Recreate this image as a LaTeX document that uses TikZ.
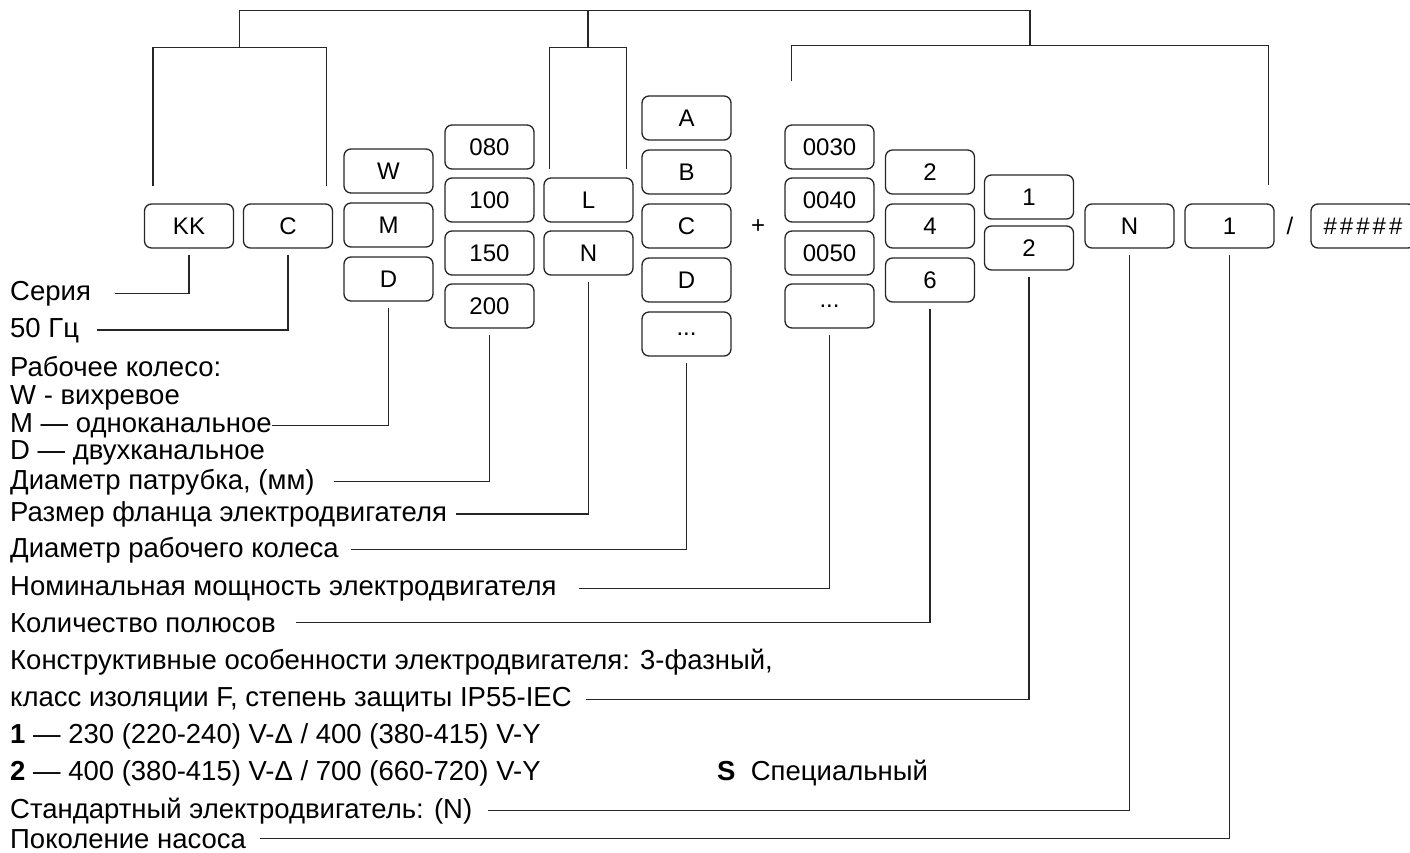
\documentclass[tikz,border=0pt]{standalone}
\usepackage{fontspec}
\setmainfont{Liberation Sans}
\usepackage{tikz}

\begin{document}
\begin{tikzpicture}[
      x=1pt, y=-1pt,
      kletka/.style={draw=black!85, line width=1.3pt, rounded corners=7pt,
                     minimum width=89pt, minimum height=44pt, inner sep=0pt,
                     font=\fontsize{24}{27}\selectfont},
      podpis/.style={anchor=base west, inner sep=0pt,
                     font=\fontsize{27.5}{30}\selectfont},
      vynoska/.style={draw=black!85, line width=1.3pt}
  ]
      \useasboundingbox (0,0) rectangle (1410,852);

      % Клетки обозначения
      \node[kletka] (kk)    at (189,226)  {KK};
      \node[kletka] (c50)   at (288,226)  {C};
      \node[kletka] (kw)    at (388.5,171) {W};
      \node[kletka] (km)    at (388.5,225) {M};
      \node[kletka] (kd)    at (388.5,279) {D};
      \node[kletka] (d080)  at (489.5,147) {080};
      \node[kletka] (d100)  at (489.5,200) {100};
      \node[kletka] (d150)  at (489.5,253) {150};
      \node[kletka] (d200)  at (489.5,306) {200};
      \node[kletka] (fl)    at (588.5,200) {L};
      \node[kletka] (fn)    at (588.5,253) {N};
      \node[kletka] (ra)    at (686.5,118) {A};
      \node[kletka] (rb)    at (686.5,172) {B};
      \node[kletka] (rc)    at (686.5,226) {C};
      \node[kletka] (rd)    at (686.5,280) {D};
      \node[kletka] (rx)    at (686.5,334) {...};
      \node[font=\fontsize{24}{27}\selectfont] (plus) at (758,227) {+};
      \node[kletka] (p0030) at (829.5,147) {0030};
      \node[kletka] (p0040) at (829.5,200) {0040};
      \node[kletka] (p0050) at (829.5,253) {0050};
      \node[kletka] (px)    at (829.5,306) {...};
      \node[kletka] (pol2)  at (930,172)  {2};
      \node[kletka] (pol4)  at (930,226)  {4};
      \node[kletka] (pol6)  at (930,280)  {6};
      \node[kletka] (iz1)   at (1029,197) {1};
      \node[kletka] (iz2)   at (1029,248) {2};
      \node[kletka] (ns)    at (1129.5,226) {N};
      \node[kletka] (gen)   at (1229.5,226) {1};
      \node[font=\fontsize{24}{27}\selectfont] (drob) at (1290,226) {/};
      \node[kletka, minimum width=104pt] (nomer) at (1363,226)
          {\#\kern3pt\#\kern3pt\#\kern3pt\#\kern3pt\#};

      % Пояснения
      \node[podpis] (seriya)    at (10,300) {Серия};
      \node[podpis] (gerc)      at (10,337) {50 Гц};
      \node[podpis] (koleso)    at (10,376) {Рабочее колесо:};
      \node[podpis] (tw)        at (10,404) {W - вихревое};
      \node[podpis] (tm)        at (10,432) {M — одноканальное};
      \node[podpis] (td)        at (10,459) {D — двухканальное};
      \node[podpis] (patrubok)  at (10,489) {Диаметр патрубка, (мм)};
      \node[podpis] (flanec)    at (10,521) {Размер фланца электродвигателя};
      \node[podpis] (diamkol)   at (10,557) {Диаметр рабочего колеса};
      \node[podpis] (moshch)    at (10,595) {Номинальная мощность электродвигателя};
      \node[podpis] (polyusa)   at (10,632) {Количество полюсов};
      \node[podpis] (konstr)    at (10,669) {Конструктивные особенности электродвигателя: 3-фазный,};
      \node[podpis] (izol)      at (10,706) {класс изоляции F, степень защиты IP55-IEC};
      \node[podpis] (napr1)     at (10,743) {\textbf{1} — 230 (220-240) V-Δ / 400 (380-415) V-Y};
      \node[podpis] (napr2)     at (10,780) {\textbf{2} — 400 (380-415) V-Δ / 700 (660-720) V-Y};
      \node[podpis] (spec)      at (717,780) {\textbf{S}\ \ Специальный};
      \node[podpis] (standart)  at (10,818) {Стандартный электродвигатель: (N)};
      \node[podpis] (pokolenie) at (10,848) {Поколение насоса};

      % Выноски вниз
      \draw[vynoska, shorten <=6pt, shorten >=24pt] (kk)   |- (seriya);
      \draw[vynoska, shorten <=6pt, shorten >=18pt] (c50)  |- (gerc);
      \draw[vynoska, shorten <=6pt]                 (kd)   |- (tm);
      \draw[vynoska, shorten <=6pt, shorten >=19pt] (d200) |- (patrubok);
      \draw[vynoska, shorten <=6pt, shorten >=9pt]  (fn)   |- (flanec);
      \draw[vynoska, shorten <=6pt, shorten >=12pt] (rx)   |- (diamkol);
      \draw[vynoska, shorten <=6pt, shorten >=22pt] (px)   |- (moshch);
      \draw[vynoska, shorten <=6pt, shorten >=20pt] (pol6) |- (polyusa);
      \draw[vynoska, shorten <=6pt, shorten >=14pt] (iz2)  |- (izol);
      \draw[vynoska, shorten <=6pt, shorten >=16pt] (ns)   |- (standart);
      \draw[vynoska, shorten <=6pt, shorten >=14pt] (gen)  |- (pokolenie);

      % Скобки сверху
      \draw[vynoska] ([shift={(9,-17)}]kk.north west) -- ++(0,-139)
          -| coordinate[pos=.25] (sk1) ([shift={(-7,-17)}]c50.north east);
      \draw[vynoska] ([shift={(6,-8)}]fl.north west) -- ++(0,-122)
          -| coordinate[pos=.25] (sk2) ([shift={(-7,-8)}]fl.north east);
      \draw[vynoska] ([shift={(7,-43)}]p0030.north west) -- ++(0,-36)
          -| coordinate[pos=.25] (sk3) ([shift={(-6,-18)}]gen.north east);
      \draw[vynoska] (sk1) -- ++(0,-37) coordinate (verh) -| (sk3);
      \draw[vynoska] (sk2) -- (sk2 |- verh);
  \end{tikzpicture}
\end{document}
